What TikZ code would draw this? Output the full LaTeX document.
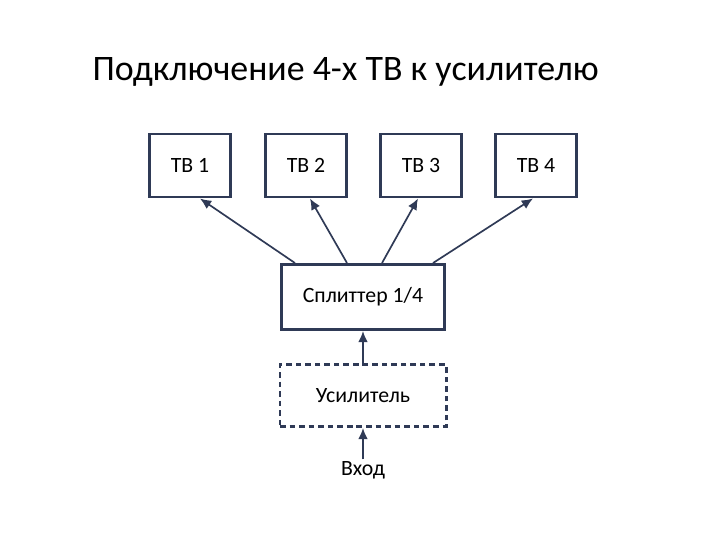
\documentclass[tikz,border=0pt]{standalone}
\usepackage{fontspec}
\setmainfont{Carlito}
\usetikzlibrary{arrows, arrows.meta, positioning, calc}
\definecolor{navy}{RGB}{47,58,86}

\begin{document}
\begin{tikzpicture}[x=0.025cm, y=-0.025cm, >={Latex[length=8pt, width=7pt]}, thick,
box/.style={draw=navy, line width=2.1pt, rectangle, inner sep=0pt, font=\fontsize{15.5}{18}\selectfont},
tvbox/.style={box, minimum width=2.025cm, minimum height=1.575cm},
ampbox/.style={box, dash pattern=on 4pt off 2.8pt},
link/.style={->, draw=navy, line width=1.2pt}
]
    \useasboundingbox (0, 0) rectangle (720, 540);

    % Title
    \node (title) [anchor=base west, inner sep=0pt, font=\fontsize{25.5}{30}\selectfont] at (92, 80) {Подключение 4-х ТВ к усилителю};

    % TVs
    \foreach \i/\x in {1/190, 2/306, 3/421, 4/536}
        \node (tv\i) at (\x, 165.5) [tvbox] {ТВ \i};

    % Splitter and amplifier
    \node (splitter) at (363, 297) [box, minimum width=4.075cm, minimum height=1.625cm] {Сплиттер 1/4};
    \node (amp) at (363, 395.5) [ampbox, minimum width=4.15cm, minimum height=1.55cm] {Усилитель};
    \node (input) at (363, 470) [font=\fontsize{15.5}{18}\selectfont, inner sep=1pt] {Вход};

    % Links
    \draw [link] ([xshift=-1.7cm]splitter.north) -- ([xshift=0.25cm]tv1.south);
    \draw [link] ([xshift=-0.4cm]splitter.north) -- ([xshift=0.1cm]tv2.south);
    \draw [link] ([xshift=0.475cm]splitter.north) -- ([xshift=-0.075cm]tv3.south);
    \draw [link] ([xshift=1.75cm]splitter.north) -- ([xshift=-0.075cm]tv4.south);
    \draw [link] (amp.north) -- (splitter.south);
    \draw [link] (input.north) -- (amp.south);

\end{tikzpicture}
\end{document}
